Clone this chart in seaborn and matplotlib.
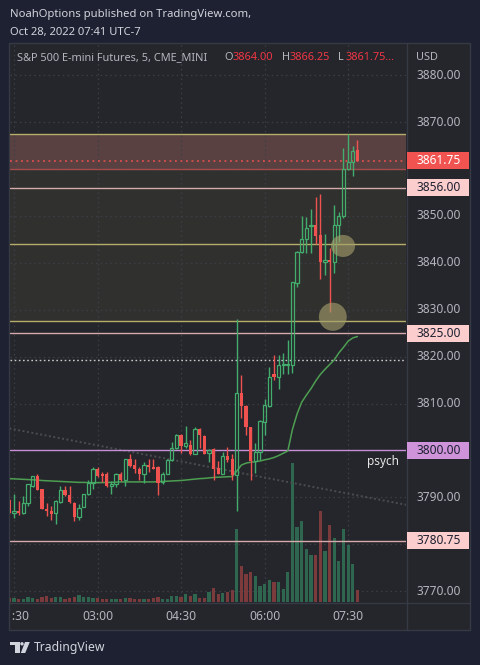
import numpy as np
import pandas as pd
import matplotlib
matplotlib.use("Agg")
import matplotlib.pyplot as plt
import seaborn as sns
from matplotlib.patches import Rectangle, Ellipse, Polygon, Circle
from matplotlib import transforms

# ---------------- data ----------------
opens = [3789.5, 3786.75, 3787.0, 3786.75, 3788.75, 3792.5, 3794.5, 3791.75, 3787.5, 3787.0,
         3786.75, 3789.0, 3791.5, 3790.5, 3788.75, 3785.75, 3788.0, 3790.75, 3793.0, 3796.0,
         3795.0, 3795.0, 3792.5, 3792.75, 3795.0, 3793.75, 3798.25, 3797.0, 3796.0, 3795.0,
         3797.0, 3796.5, 3796.5, 3793.25, 3795.0, 3798.0, 3800.5, 3803.25, 3801.0, 3801.25,
         3799.25, 3804.5, 3803.0, 3799.5, 3800.25, 3796.25, 3795.0, 3798.75, 3798.25, 3794.75,
         3812.25, 3809.5, 3805.0, 3797.75, 3799.75, 3806.0, 3809.5, 3816.25, 3815.75, 3818.25,
         3818.25, 3818.25, 3835.75, 3842.25, 3845.0, 3847.75, 3848.0, 3846.0, 3840.25, 3840.5,
         3840.25, 3848.0, 3850.0, 3860.0, 3861.5, 3864.0]
highs = [3789.75, 3790.75, 3789.25, 3790.25, 3792.75, 3794.5, 3795.0, 3791.75, 3788.75, 3788.25,
         3789.5, 3792.5, 3792.5, 3792.5, 3789.0, 3788.5, 3790.75, 3793.75, 3796.5, 3796.5,
         3795.5, 3795.5, 3793.5, 3795.25, 3795.5, 3798.25, 3799.25, 3798.25, 3796.5, 3797.5,
         3798.25, 3798.25, 3796.75, 3795.5, 3798.25, 3801.75, 3803.5, 3803.5, 3805.25, 3802.25,
         3805.0, 3804.75, 3803.25, 3800.25, 3800.5, 3797.75, 3799.75, 3800.75, 3799.25, 3828.0,
         3816.0, 3809.75, 3805.0, 3801.5, 3806.5, 3811.0, 3817.75, 3820.25, 3820.25, 3820.75,
         3823.5, 3836.0, 3842.5, 3850.0, 3849.75, 3851.5, 3854.0, 3854.75, 3846.25, 3843.25,
         3852.25, 3850.75, 3864.5, 3867.5, 3865.0, 3866.25]
lows = [3786.5, 3785.5, 3786.25, 3786.5, 3788.25, 3792.25, 3791.5, 3787.5, 3786.0, 3785.25,
        3784.25, 3788.75, 3790.25, 3788.75, 3785.0, 3785.25, 3788.0, 3790.5, 3791.75, 3794.25,
        3793.25, 3792.25, 3790.75, 3792.25, 3793.5, 3792.5, 3796.5, 3795.25, 3793.75, 3793.0,
        3795.5, 3796.0, 3790.5, 3792.75, 3795.0, 3797.75, 3800.25, 3799.5, 3800.5, 3799.0,
        3799.25, 3800.5, 3799.25, 3797.5, 3793.75, 3795.0, 3795.0, 3797.5, 3793.75, 3787.0,
        3807.0, 3803.25, 3793.75, 3795.25, 3798.0, 3803.25, 3809.25, 3815.0, 3813.0, 3816.25,
        3816.25, 3816.5, 3834.75, 3842.0, 3842.0, 3842.0, 3844.0, 3836.5, 3837.5, 3829.5,
        3837.75, 3844.5, 3849.5, 3859.75, 3858.5, 3861.75]
closes = [3786.75, 3787.0, 3786.75, 3788.75, 3792.75, 3794.5, 3791.5, 3787.5, 3787.0, 3786.5,
          3789.25, 3791.5, 3790.5, 3789.0, 3785.75, 3787.75, 3790.75, 3793.0, 3796.0, 3794.5,
          3794.5, 3792.5, 3792.75, 3795.0, 3793.75, 3798.25, 3796.75, 3796.0, 3795.0, 3797.0,
          3796.5, 3796.0, 3793.0, 3795.0, 3798.0, 3800.5, 3803.25, 3801.0, 3801.5, 3799.25,
          3804.5, 3803.25, 3799.25, 3800.0, 3796.0, 3795.0, 3798.75, 3798.0, 3794.75, 3812.25,
          3809.5, 3805.0, 3797.75, 3799.75, 3806.25, 3809.75, 3815.75, 3815.75, 3818.25, 3818.5,
          3818.5, 3836.0, 3842.25, 3845.0, 3847.5, 3848.0, 3845.75, 3840.25, 3840.5, 3840.25,
          3848.0, 3850.0, 3860.0, 3861.5, 3863.75, 3861.75]
volumes = [370, 400, 300, 330, 470, 430, 330, 470, 570, 400,
           470, 470, 330, 400, 500, 670, 500, 500, 400, 400,
           300, 300, 300, 300, 300, 400, 370, 300, 300, 330,
           330, 400, 470, 300, 330, 570, 600, 470, 800, 600,
           800, 400, 400, 1000, 1400, 800, 870, 1000, 1200, 7270,
           3600, 2800, 3000, 2600, 1600, 1800, 2200, 2000, 2000, 1330,
           3000, 13900, 7500, 8100, 5300, 4700, 4700, 9100, 5100, 7700,
           6400, 4100, 7300, 5700, 3800, 1200]
ma_values = [3794.0, 3793.95, 3793.9, 3793.85, 3793.8, 3793.75, 3793.7, 3793.6, 3793.55, 3793.5,
             3793.45, 3793.4, 3793.35, 3793.3, 3793.25, 3793.2, 3793.2, 3793.15, 3793.15, 3793.15,
             3793.15, 3793.2, 3793.2, 3793.25, 3793.3, 3793.3, 3793.3, 3793.3, 3793.3, 3793.3,
             3793.3, 3793.3, 3793.35, 3793.4, 3793.45, 3793.5, 3793.55, 3793.6, 3793.7, 3793.8,
             3793.9, 3794.0, 3794.05, 3794.15, 3794.25, 3794.3, 3794.35, 3794.4, 3794.45, 3795.6,
             3796.9, 3797.3, 3797.5, 3797.6, 3797.75, 3798.0, 3798.2, 3798.5, 3798.9, 3799.4,
             3799.9, 3804.5, 3807.8, 3810.3, 3811.8, 3813.2, 3814.8, 3816.2, 3817.3, 3818.3,
             3819.3, 3820.8, 3822.0, 3823.3, 3824.0, 3824.3]

tick_pos = [1, 19, 37, 55, 73]
tick_labels = ["01:30", "03:00", "04:30", "06:00", "07:30"]
price_ticks = [3770, 3780, 3790, 3800, 3810, 3820, 3830, 3840, 3850, 3860, 3870, 3880]

yellow_levels = [3867.5, 3844.0, 3827.5]
pink_levels = [3856.0, 3825.0, 3780.75]
psych_level = 3800.0
last_price = 3861.75
prev_close = 3819.25
red_zone = [3860.0, 3867.5]
gray_zone = [3827.5, 3860.0]
trend_x = [0.0, 85.6]
trend_y = [3804.7, 3788.4]
circle_x = [71.9, 69.7]
circle_y = [3843.6, 3828.5]
circle_w = [5.2, 6.0]
circle_h = [4.7, 6.0]

df = pd.DataFrame({"bar": np.arange(len(opens)), "open": opens, "high": highs,
                   "low": lows, "close": closes, "volume": volumes, "ma": ma_values})

# ---------------- style ----------------
sns.set_theme(style="dark")
plt.rcParams["font.family"] = ["Noto Sans", "DejaVu Sans"]

OUTER = "#1e2131"
PANEL = "#25262b"
SEP = "#363a45"
TXT = "#b2b5be"
UP = "#43ad6e"
DOWN = "#f0524f"
VUP = "#2e6650"
VDOWN = "#7b3a3c"
YEL = "#b7ad6b"
PINK = "#d4aaaa"
PURP = "#c78fd6"

W, H = 480, 665
fig = plt.figure(figsize=(W / 100, H / 100), dpi=100, facecolor=OUTER)


def rect(x0, y0, x1, y1):
    return [x0 / W, 1 - y1 / H, (x1 - x0) / W, (y1 - y0) / H]


# background / frame axes in pixel coordinates
axbg = fig.add_axes([0, 0, 1, 1], zorder=-10)
axbg.set_xlim(0, W)
axbg.set_ylim(H, 0)
axbg.axis("off")
axbg.add_patch(Rectangle((9, 43), 461, 587, facecolor=PANEL, edgecolor=SEP, lw=1.0))
axbg.plot([407, 407], [43, 630], color=SEP, lw=1.0)
axbg.plot([9, 470], [602.5, 602.5], color=SEP, lw=1.0)

# price scale limits
YMIN, YMAX = 3767.7, 3886.65
XMIN, XMAX = 0.13, 85.47
main_rect = rect(10, 44, 406, 602)

# volume axes (bottom layer) with zones and grid
axv = fig.add_axes(main_rect, zorder=0)
axv.set_facecolor(PANEL)
axv.set_xlim(XMIN, XMAX)
axv.set_ylim(0, 55800)
axv.axis("off")
axv.patch.set_visible(True)

ax = fig.add_axes(main_rect, zorder=1)
ax.set_facecolor("none")
ax.set_xlim(XMIN, XMAX)
ax.set_ylim(YMIN, YMAX)
for s in ax.spines.values():
    s.set_visible(False)
ax.set_xticks([])
ax.set_yticks([])

# zones + grid drawn on the volume axes with price coordinates
tr_price = transforms.blended_transform_factory(axv.transAxes, ax.transData)
axv.add_patch(Rectangle((0, gray_zone[0]), 1, gray_zone[1] - gray_zone[0],
                        transform=tr_price, facecolor="#30312f", edgecolor="none", zorder=0))
axv.add_patch(Rectangle((0, red_zone[0]), 1, red_zone[1] - red_zone[0],
                        transform=tr_price, facecolor="#594142", edgecolor="none", zorder=0.1))
for p in price_ticks:
    axv.plot([0, 1], [p, p], transform=tr_price, color="#3b3e45", lw=0.9,
             ls=(0, (1.2, 2.6)), zorder=0.5)
tr_time = transforms.blended_transform_factory(ax.transData, axv.transAxes)
for t in tick_pos:
    axv.plot([t, t], [0, 1], transform=tr_time, color="#3b3e45", lw=0.9,
             ls=(0, (1.2, 2.6)), zorder=0.5)

up_mask = df["close"] >= df["open"]
axv.bar(df["bar"], df["volume"], width=0.7,
        color=np.where(up_mask, VUP, VDOWN), linewidth=0, zorder=1)

# trend line (drawing)
ax.plot(trend_x, trend_y, color="#4a4d50", lw=1.4, ls=(0, (1, 1.3)), zorder=1)

# horizontal levels
ax.axhline(red_zone[0], color="#a44c4c", lw=1.0, zorder=2)
for lv in yellow_levels:
    ax.axhline(lv, color=YEL, lw=1.0, zorder=2)
for lv in pink_levels:
    ax.axhline(lv, color=PINK, lw=1.0, zorder=2)
ax.axhline(psych_level, color=PURP, lw=1.0, zorder=2)
ax.axhline(prev_close, color="#c8c8c8", lw=1.0, ls=(0, (1.2, 1.8)), zorder=2)
ax.axhline(last_price, color=DOWN, lw=1.1, ls=(0, (1.2, 2.4)), zorder=2)

# moving average line
sns.lineplot(data=df, x="bar", y="ma", ax=ax, color="#4d9e52", lw=1.1, zorder=3)
ax.set_xlabel("")
ax.set_ylabel("")

# candles
BW = 0.7
up = df[up_mask]
dn = df[~up_mask]
body_top_up = up[["open", "close"]].max(axis=1)
body_bot_up = up[["open", "close"]].min(axis=1)
ax.vlines(up["bar"], body_top_up, up["high"], color=UP, lw=1.0, zorder=4)
ax.vlines(up["bar"], up["low"], body_bot_up, color=UP, lw=1.0, zorder=4)
ax.bar(up["bar"], np.maximum(body_top_up - body_bot_up, 0.15), bottom=body_bot_up,
       width=BW, facecolor="none", edgecolor=UP, linewidth=0.9, zorder=4)
ax.vlines(dn["bar"], dn["low"], dn["high"], color=DOWN, lw=1.0, zorder=4)
ax.bar(dn["bar"], np.maximum(dn["open"] - dn["close"], 0.25), bottom=dn["close"],
       width=BW, color=DOWN, linewidth=0, zorder=5)

# highlight circles
for cx, cy, cw, ch in zip(circle_x, circle_y, circle_w, circle_h):
    ax.add_patch(Ellipse((cx, cy), cw, ch, facecolor="#a59f6c", alpha=0.62,
                         edgecolor="none", zorder=6))

ax.text(84.0, psych_level - 2.3, "psych", color="#e6e6e6", fontsize=8.5,
        fontweight="semibold", ha="right", va="center", zorder=7)

# ---------------- price scale ----------------
axp = fig.add_axes(rect(407, 44, 470, 602), zorder=2)
axp.set_ylim(YMIN, YMAX)
axp.set_xlim(0, 1)
axp.axis("off")
trp = transforms.blended_transform_factory(axp.transAxes, axp.transData)
LX = 0.15
FS = 8.6
BOXH = 3.7
tag_levels = pink_levels + [psych_level, last_price]
for p in price_ticks:
    # tick labels fully hidden behind a price tag are not drawn
    if min(abs(p - t) for t in tag_levels) < 2.5:
        continue
    axp.text(LX, p, f"{p:.2f}", transform=trp, color=TXT, fontsize=FS,
             va="center", ha="left", zorder=1)


def tag(price, bg, fg, bold=False):
    axp.add_patch(Rectangle((0.0, price - BOXH / 2), 0.985, BOXH, transform=trp,
                            facecolor=bg, edgecolor="none", zorder=3))
    axp.text(LX, price, f"{price:.2f}", transform=trp, color=fg, fontsize=FS,
             va="center", ha="left", zorder=4, fontweight="bold" if bold else "normal")


for lv in pink_levels:
    tag(lv, "#fbcdcd", "#1e2131")
tag(psych_level, "#ce93d8", "#1e2131")
tag(last_price, "#f05350", "#ffffff", bold=True)

# ---------------- time scale ----------------
axt = fig.add_axes(rect(10, 603, 406, 629), zorder=2)
axt.set_xlim(XMIN, XMAX)
axt.set_ylim(0, 1)
axt.axis("off")
for t, lab in zip(tick_pos, tick_labels):
    axt.text(t, 0.5, lab, color=TXT, fontsize=8.8, ha="center", va="center", clip_on=True)

# ---------------- header & footer texts ----------------
fig.text(10 / W, 1 - 15 / H, "NoahOptions published on TradingView.com,", color="#d1d4dc",
         fontsize=8.1, ha="left", va="center")
fig.text(10 / W, 1 - 32 / H, "Oct 28, 2022 07:41 UTC-7", color="#d1d4dc",
         fontsize=8.1, ha="left", va="center")

legend_parts = [(17, "S&P 500 E-mini Futures, 5, CME_MINI", TXT), (224, "O", TXT),
                (233, "3864.00", "#f23645"), (282, "H", TXT), (290, "3866.25", "#f23645"),
                (338, "L", TXT), (346, "3861.75...", "#f23645")]
for x, s, c in legend_parts:
    fig.text(x / W, 1 - 58 / H, s, color=c, fontsize=7.9, ha="left", va="center", zorder=20)
fig.text(416 / W, 1 - 58 / H, "USD", color=TXT, fontsize=7.9, ha="left", va="center", zorder=20)

# TradingView logo
LOGO = "#d1d4dc"
axbg.add_patch(Polygon([(10, 642), (19.5, 642), (19.5, 653), (14.5, 653), (14.5, 645.3), (10, 645.3)],
                       closed=True, facecolor=LOGO, edgecolor="none"))
axbg.add_patch(Circle((22, 643.8), 1.7, facecolor=LOGO, edgecolor="none"))
axbg.add_patch(Polygon([(25, 642), (29.8, 642), (25.2, 653), (20.8, 653)],
                       closed=True, facecolor=LOGO, edgecolor="none"))
fig.text(34 / W, 1 - 647 / H, "TradingView", color=LOGO, fontsize=8.8, ha="left", va="center")

fig.savefig("out.png", dpi=100, facecolor=OUTER)
